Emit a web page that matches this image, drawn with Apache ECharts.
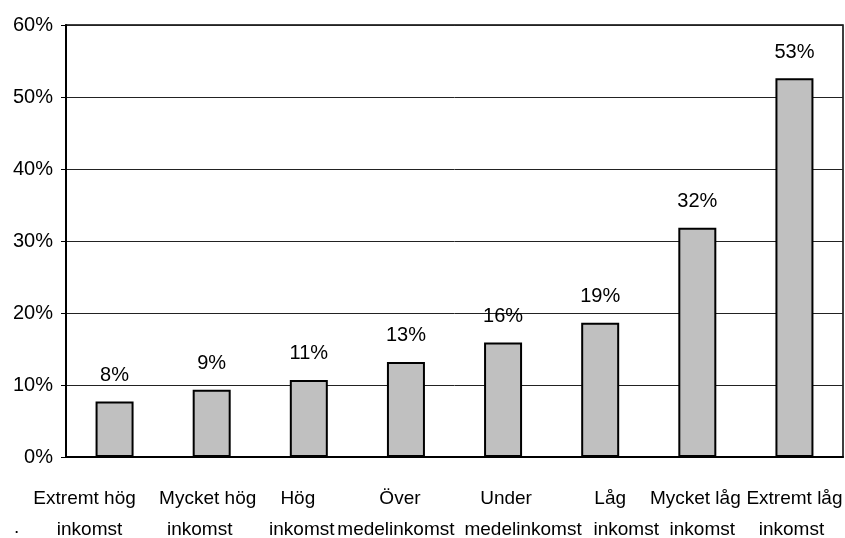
<!DOCTYPE html>
<html>
<head>
<meta charset="utf-8">
<script src="https://cdn.jsdelivr.net/npm/echarts@6/dist/echarts.min.js"></script>
<style>html,body{margin:0;padding:0;background:#fff}#c{width:845px;height:538px}</style>
</head>
<body>
<div id="c"></div>
<script>
const categories = [
  "Extremt hög\ninkomst",
  "Mycket hög\ninkomst",
  "Hög\ninkomst",
  "Över\nmedelinkomst",
  "Under\nmedelinkomst",
  "Låg\ninkomst",
  "Mycket låg\ninkomst",
  "Extremt låg\ninkomst"
];
const shares = [7.7, 9.35, 10.7, 13.2, 15.9, 18.65, 31.85, 52.6];
const yTicks = { min: 0, max: 60, interval: 10 };

const FONT = "Arial, 'Liberation Sans', sans-serif";

// horizontal nudges of the two lines of each category label (layout only)
function buildLabelLayout() {
  const nudges = [[-30, -25], [-4, -12], [-11, -7], [-6, -10], [3, 20], [10, 26], [-2, 5], [0, -3]];
  const rich = {};
  nudges.forEach((pair, i) => {
    pair.forEach((s, j) => {
      rich['n' + i + '_' + j] = {
        color: '#000', fontFamily: FONT, fontSize: 19, lineHeight: 31,
        padding: s >= 0 ? [0, 0, 0, 2 * s] : [0, -2 * s, 0, 0]
      };
    });
  });
  return rich;
}
const rich = buildLabelLayout();

const chart = echarts.init(document.getElementById('c'), null, { renderer: 'canvas' });
chart.setOption({
  animation: false,
  backgroundColor: '#ffffff',
  grid: {
    left: 66, right: 2, top: 25, bottom: 81, containLabel: false, outerBoundsMode: 'none',
    show: true, borderColor: '#000', borderWidth: 1.5, backgroundColor: 'transparent'
  },
  xAxis: {
    type: 'category',
    data: categories,
    axisLine: { show: true, lineStyle: { color: '#000', width: 2 } },
    axisTick: { show: false },
    axisLabel: {
      color: '#000', fontFamily: FONT, fontSize: 19, lineHeight: 31, margin: 26, interval: 0,
      formatter: (v, i) => v.split('\n').map((t, j) => '{n' + i + '_' + j + '|' + t + '}').join('\n'),
      rich: rich
    }
  },
  yAxis: {
    type: 'value',
    min: yTicks.min, max: yTicks.max, interval: yTicks.interval,
    axisLine: { show: true, lineStyle: { color: '#000', width: 2 } },
    axisTick: { show: true, length: 5, lineStyle: { color: '#000', width: 1 } },
    splitLine: { show: true, lineStyle: { color: '#222', width: 1 } },
    axisLabel: { color: '#000', fontFamily: FONT, fontSize: 20, margin: 13, formatter: '{value}%' }
  },
  series: [{
    type: 'bar',
    data: shares,
    barWidth: 38,
    itemStyle: { color: '#c0c0c0', borderColor: '#000', borderWidth: 2 },
    label: {
      show: true, position: 'top', distance: 16,
      color: '#000', fontFamily: FONT, fontSize: 20,
      formatter: p => Math.round(p.value) + '%'
    }
  }],
  graphic: [{
    type: 'text', left: 14, top: 518,
    style: { text: '.', fill: '#000', font: '19px ' + FONT }
  }]
});
</script>
</body>
</html>
